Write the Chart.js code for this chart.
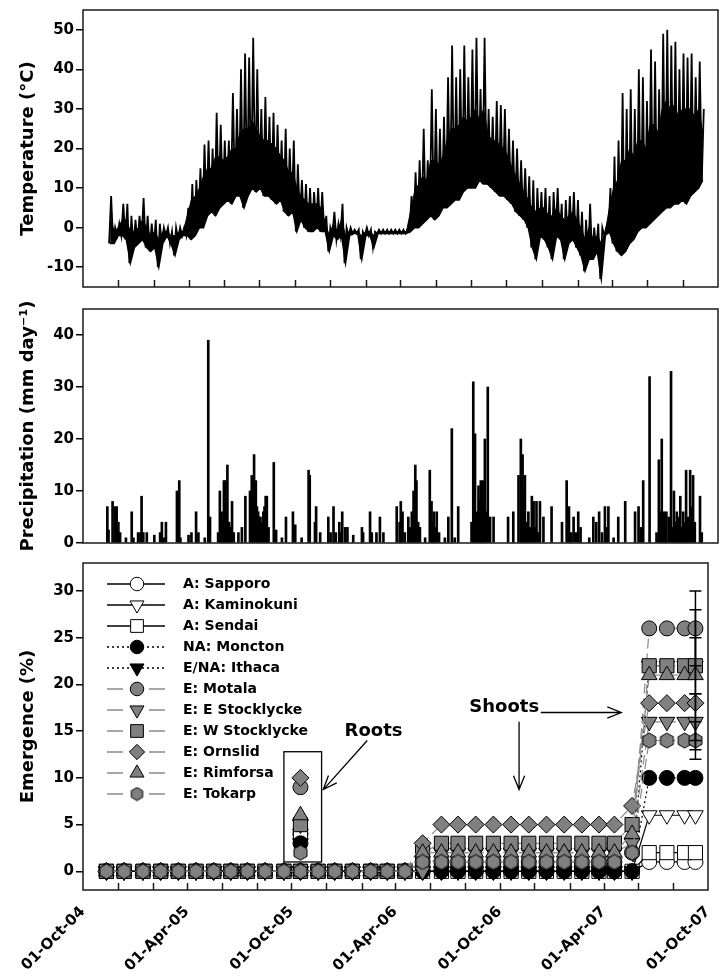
<!DOCTYPE html>
<html>
<head>
<meta charset="utf-8">
<script src="https://cdn.jsdelivr.net/npm/chart.js@4.4.1/dist/chart.umd.min.js"></script>
<style>
html, body { margin: 0; padding: 0; background: #fff; }
#wrap { position: relative; width: 719px; height: 977px; }
.panel { position: absolute; left: 0; width: 719px; }
</style>
</head>
<body>
<div id="wrap">
  <div class="panel" style="top:0"><canvas id="tempChart" width="719" height="300"></canvas></div>
  <div class="panel" style="top:300px"><canvas id="precChart" width="719" height="250"></canvas></div>
  <div class="panel" style="top:550px"><canvas id="emerChart" width="719" height="427"></canvas></div>
</div>
<script>
//DATA
// x axis = days since 01-Oct-04
const ORIGIN = '2004-10-01';
const axisTicks = ['2004-10-01','2004-12-01','2005-02-01','2005-04-01','2005-06-01','2005-08-01',
  '2005-10-01','2005-12-01','2006-02-01','2006-04-01','2006-06-01','2006-08-01','2006-10-01',
  '2006-12-01','2007-02-01','2007-04-01','2007-06-01','2007-08-01','2007-10-01'];
const tempTicks = [-10, 0, 10, 20, 30, 40, 50];
const precTicks = [0, 10, 20, 30, 40];
const emerTicks = [0, 5, 10, 15, 20, 25, 30];

// temperature, weekly from 15-Nov-04: peak, low, and top of the dense daily band
const tempStart = '2004-11-15';
const tempHigh = [8,0,1,6,6,3,2,3,7.5,3,
  1,2,1,0,0,-1,0,0,0,5,
  11,12,15,21,22,20,29,26,22,22,
  34,30,40,44,43,48,40,30,33,28,
  29,26,22,25,20,22,16,12,11,10,
  9,10,9,3,0,4,1,6,0,0,
  -0.5,-0.5,-1,0,-0.5,-1,-0.5,-0.5,-0.5,-0.5,
  -0.5,-0.5,-0.5,-0.5,8,14,17,25,17,35,
  30,25,28,38,46,38,40,46,38,45,
  48,35,48,30,28,32,31,30,25,22,
  20,17,15,13,12,10,9,10,8,9,
  10,6,7,8,9,7,4,2,6,0,
  1,0,0,10,18,22,34,30,35,30,
  40,38,32,45,42,35,49,50,46,47,
  40,44,43,44,38,42,30];
const tempLow = [-4,-4,-2,-2,-3,-9,-5,-4,-3,-5,
  -6,-5,-10,-4,-2,-4,-7,-3,-2,-2,
  -3,-2,0,0,3,4,3,5,6,7,
  6,8,8,5,8,10,9,10,8,8,
  7,6,7,4,3,4,-1,2,0,-1,
  -1,0,-1,-1,-6,-2,-3,-2,-9,-2,
  -1.5,-1.5,-8,-2,-2,-5,-1.5,-1.5,-1.5,-1.5,
  -1.5,-1.5,-1.5,-1.5,-1,0,0,1,2,3,
  2,3,5,5,6,7,7,9,10,10,
  10,12,11,11,10,9,8,8,7,6,
  4,3,2,0,-5,-8,-2,-3,-5,-8,
  -2,-3,-8,-4,-3,-5,-7,-11,-8,-8,
  -6,-13,-2,-1,-4,-6,-7,-6,-4,-3,
  -1,0,0,1,2,3,4,5,5,6,
  6,7,6,8,9,10,12];
const tempCore = [3,-1,0,2,2,-1,-1,0,2,0,
  -2,-1,-3,-1,-1,-2,-2,-1,-1,3,
  7,8,10,13,15,15,18,18,17,18,
  20,20,24,25,25,27,25,23,22,22,
  21,20,18,17,14,14,10,8,7,6,
  6,6,5,1,-2,1,-1,2,-2,-1,
  -1,-1,-2,-1,-1,-2,-1,-1,-1,-1,
  -1,-1,-1,-1,4,9,11,13,12,17,
  17,16,18,22,25,25,26,28,27,28,
  30,27,30,24,22,22,21,20,18,15,
  13,11,9,7,5,4,5,5,3,3,
  5,3,2,3,4,2,0,-3,0,-3,
  -2,-4,-1,5,10,12,17,17,20,18,
  22,22,20,26,26,24,30,32,30,31,
  28,30,30,30,28,30,24];

// precipitation: day (since 01-Oct-04) and mm
const precDay = [42,44,51,55,58,61,64,74,84,87,
  95,99,101,104,110,123,133,136,139,143,
  162,166,168,182,187,195,199,210,216,219,
  233,236,239,241,243,245,247,249,252,254,
  257,260,268,274,280,288,291,293,295,298,
  300,302,304,306,309,311,313,315,317,320,
  329,333,343,350,362,366,377,389,391,400,
  402,409,423,427,432,436,442,445,447,452,
  456,466,481,483,495,498,506,512,518,541,
  546,548,551,555,561,564,567,570,573,575,
  578,581,590,598,601,603,605,608,610,614,
  624,630,636,641,647,670,673,676,679,682,
  684,686,688,690,693,695,698,702,708,733,
  742,751,755,758,760,762,765,768,771,774,
  777,780,782,785,788,794,808,826,834,838,
  842,846,850,854,858,873,880,885,890,895,
  900,903,906,915,923,935,952,958,962,966,
  977,989,993,996,998,1000,1002,1004,1006,1010,
  1014,1017,1019,1022,1024,1027,1030,1033,1035,1038,
  1040,1043,1047,1049,1052,1055,1064,1067];
const precMm = [7,2.5,8,7,7,4,2,1,6,1,
  2,2,9,2,2,1.5,2,4,1,4,
  10,12,1,1.5,2,6,2,1,39,5,
  2,10,6,4,12,12,6,15,4,3,
  8,2,2,3,9,10,13,8,17,12,
  7,6,5,5,4,6,7,9,9,3,
  15.5,2.5,1,5,6,3.5,1,14,13,4,
  7,2,5,2,7,2,4,2,6,3,
  3,1.5,3,2,6,2,2,5,2,7,
  4,8,6,2,5,3,6,10,15,12,
  4,3,1,14,8,4,6,3,6,2,
  1,5,22,1,7,4,31,21,6,11,
  8,12,4,12,20,6,30,5,5,5,
  6,13,20,17,10,13,4,6,3,9,
  8,3,8,2,8,5,7,4,12,7,
  2,5,2,6,3,1,5,4,6,2,
  7,3,7,1,5,8,6,7,3,12,
  32,2,16,6,20,4,6,3,6,5,
  33,3,10,4,6,5,9,3,6,4,
  14,5,14,7,13,4,9,2];

// emergence (%)
const emerDates = ['2004-11-11','2004-12-12','2005-01-14','2005-02-14','2005-03-17','2005-04-17',
  '2005-05-18','2005-06-17','2005-07-16','2005-08-16','2005-09-18','2005-10-17','2005-11-17',
  '2005-12-16','2006-01-16','2006-02-17','2006-03-18','2006-04-18','2006-05-19','2006-06-21',
  '2006-07-20','2006-08-20','2006-09-20','2006-10-21','2006-11-21','2006-12-22','2007-01-22',
  '2007-02-22','2007-03-24','2007-04-20','2007-05-21','2007-06-20','2007-07-21','2007-08-21',
  '2007-09-09'];
const popNames = ['A: Sapporo','A: Kaminokuni','A: Sendai','NA: Moncton','E/NA: Ithaca',
  'E: Motala','E: E Stocklycke','E: W Stocklycke','E: Ornslid','E: Rimforsa','E: Tokarp'];
const sapporo     = [0,0,0,0,0,0,0,0,0,0,0,0,0,0,0,0,0,0, 0,0,0,0,0,0,0,0,0,0,0,0, 0, 1,1,1,1];
const kaminokuni  = [0,0,0,0,0,0,0,0,0,0,0,0,0,0,0,0,0,0, 0,0,0,0,0,0,0,0,0,0,0,0, 0, 6,6,6,6];
const sendai      = [0,0,0,0,0,0,0,0,0,0,0,0,0,0,0,0,0,0, 0,0,0,0,0,0,0,0,0,0,0,0, 0, 2,2,2,2];
const moncton     = [0,0,0,0,0,0,0,0,0,0,0,0,0,0,0,0,0,0, 0,0,0,0,0,0,0,0,0,0,0,0, 0, 10,10,10,10];
const ithaca      = [0,0,0,0,0,0,0,0,0,0,0,0,0,0,0,0,0,0, 0,0,0,0,0,0,0,0,0,0,0,0, 0, 22,22,22,22];
const motala      = [0,0,0,0,0,0,0,0,0,0,0,0,0,0,0,0,0,0, 1,1,1,1,1,1,1,1,1,1,1,1, 2, 26,26,26,26];
const eStocklycke = [0,0,0,0,0,0,0,0,0,0,0,0,0,0,0,0,0,0, 0,2,2,2,2,2,2,2,2,2,2,2, 3, 16,16,16,16];
const wStocklycke = [0,0,0,0,0,0,0,0,0,0,0,0,0,0,0,0,0,0, 2,3,3,3,3,3,3,3,3,3,3,3, 5, 22,22,22,22];
const ornslid     = [0,0,0,0,0,0,0,0,0,0,0,0,0,0,0,0,0,0, 3,5,5,5,5,5,5,5,5,5,5,5, 7, 18,18,18,18];
const rimforsa    = [0,0,0,0,0,0,0,0,0,0,0,0,0,0,0,0,0,0, 2,2,2,2,2,2,2,2,2,2,2,2, 4, 21,21,21,21];
const tokarp      = [0,0,0,0,0,0,0,0,0,0,0,0,0,0,0,0,0,0, 1,1,1,1,1,1,1,1,1,1,1,1, 2, 14,14,14,14];
const lastErr     = [0, 0, 0, 0, 0, 4, 3, 3, 0, 7, 2];
// roots, same order as popNames
const rootsDate = '2005-10-17';
const rootsPct  = [4, 4, 4, 3, 3, 9, 5, 5, 10, 6, 2];

//JS
const series = [sapporo, kaminokuni, sendai, moncton, ithaca, motala, eStocklycke, wStocklycke, ornslid, rimforsa, tokarp];
const MONTHS = ['Jan','Feb','Mar','Apr','May','Jun','Jul','Aug','Sep','Oct','Nov','Dec'];

function dayOf(s) { return (Date.parse(s) - Date.parse(ORIGIN)) / 86400000; }
function tickLabel(day) {
  const d = new Date(Date.parse(ORIGIN) + day * 86400000);
  const m = d.getUTCMonth();
  if (m !== 3 && m !== 9) return '';
  return '01-' + MONTHS[m] + '-' + String(d.getUTCFullYear()).slice(2);
}

Chart.defaults.font.family = "'DejaVu Sans', sans-serif";
Chart.defaults.font.weight = 'bold';
Chart.defaults.color = '#000';

const GREY = '#808080';
const popLook = [
  {shape: 'circle', fill: '#fff', line: 'solid'},
  {shape: 'triDown', fill: '#fff', line: 'solid'},
  {shape: 'square', fill: '#fff', line: 'solid'},
  {shape: 'circle', fill: '#000', line: 'dot'},
  {shape: 'triDown', fill: '#000', line: 'dot'},
  {shape: 'circle', fill: GREY, line: 'dash'},
  {shape: 'triDown', fill: GREY, line: 'dash'},
  {shape: 'square', fill: GREY, line: 'dash'},
  {shape: 'diamond', fill: GREY, line: 'dash'},
  {shape: 'triangle', fill: GREY, line: 'dash'},
  {shape: 'hexagon', fill: GREY, line: 'dash'}
];
const lineLook = {
  solid: {color: '#000', dash: []},
  dot: {color: '#000', dash: [2, 3]},
  dash: {color: '#8a8a8a', dash: [10, 5]}
};

function hexImage(size, fill) {
  const c = document.createElement('canvas');
  c.width = size; c.height = size;
  const g = c.getContext('2d');
  const r = size / 2 - 1;
  g.beginPath();
  for (let k = 0; k < 6; k++) {
    const a = -Math.PI / 2 + k * Math.PI / 3;
    const px = size / 2 + r * Math.cos(a), py = size / 2 + r * Math.sin(a);
    if (k === 0) g.moveTo(px, py); else g.lineTo(px, py);
  }
  g.closePath();
  g.fillStyle = fill; g.fill();
  g.lineWidth = 1; g.strokeStyle = '#000'; g.stroke();
  return c;
}

function markerOpts(look, k) {
  switch (look.shape) {
    case 'circle':   return {pointStyle: 'circle', radius: 7.5 * k, rotation: 0};
    case 'triDown':  return {pointStyle: 'triangle', radius: 9 * k, rotation: 180};
    case 'triangle': return {pointStyle: 'triangle', radius: 9 * k, rotation: 0};
    case 'square':   return {pointStyle: 'rect', radius: 10 * k, rotation: 0};
    case 'diamond':  return {pointStyle: 'rectRot', radius: 8.5 * k, rotation: 0};
    default:         return {pointStyle: hexImage(Math.round(17 * k), look.fill), radius: 8 * k, rotation: 0};
  }
}

function yAxis(min, max, vals, title) {
  return {
    min: min, max: max,
    afterBuildTicks: s => { s.ticks = vals.map(v => ({value: v})); },
    afterFit: s => { s.width = 83; s.paddingTop = 0; s.paddingBottom = 0; },
    border: {display: false},
    grid: {drawOnChartArea: false, tickLength: 7, color: '#000', lineWidth: 1.5},
    ticks: {padding: 2, color: '#000', font: {size: 15, weight: 'bold'}},
    title: {display: true, text: title, color: '#000', font: {size: 18, weight: 'bold'}, padding: {top: 18, bottom: 0}}
  };
}
function xHidden() {
  return {type: 'linear', display: false, offset: false, min: 0, max: dayOf('2007-10-01')};
}

// frame round the plot area + inward x ticks
const framePlugin = {
  id: 'frame',
  afterDatasetsDraw(chart, args, opts) {
    const {ctx, chartArea: a} = chart;
    const x = chart.scales.x;
    ctx.save();
    ctx.strokeStyle = '#1a1a1a';
    ctx.lineWidth = 1.5;
    ctx.setLineDash([]);
    ctx.strokeRect(a.left, a.top, a.right - a.left, a.bottom - a.top);
    if (opts.innerTicks) {
      axisTicks.slice(1, -1).forEach(t => {
        const px = Math.round(x.getPixelForValue(dayOf(t))) + 0.5;
        ctx.beginPath();
        ctx.moveTo(px, a.bottom);
        ctx.lineTo(px, a.bottom - 7);
        ctx.stroke();
      });
    }
    ctx.restore();
  }
};

//Temperature
const t0 = dayOf(tempStart);
const tempPoints = [];
tempHigh.forEach((hi, i) => {
  tempPoints.push({x: t0 + 7 * i, y: tempLow[i]});
  tempPoints.push({x: t0 + 7 * i + 3.5, y: hi});
});
const lowPoints = tempLow.map((v, i) => ({x: t0 + 7 * i + 1.75, y: v}));
const corePoints = tempCore.map((v, i) => ({x: t0 + 7 * i + 1.75, y: v}));

new Chart(document.getElementById('tempChart'), {
  type: 'line',
  data: {datasets: [
    {data: tempPoints, borderColor: '#000', borderWidth: 1.8, pointRadius: 0, tension: 0},
    {data: lowPoints, borderColor: '#000', borderWidth: 1.5, pointRadius: 0, tension: 0, fill: false},
    {data: corePoints, borderColor: '#000', borderWidth: 1, pointRadius: 0, tension: 0,
      fill: '-1', backgroundColor: '#000'}
  ]},
  options: {
    responsive: false, animation: false, events: [],
    layout: {padding: {top: 10, right: 1, bottom: 13, left: 0}},
    plugins: {legend: {display: false}, tooltip: {enabled: false}, frame: {innerTicks: true}},
    scales: {x: xHidden(), y: yAxis(-15, 55, tempTicks, 'Temperature (°C)')}
  },
  plugins: [framePlugin]
});

//Precipitation
new Chart(document.getElementById('precChart'), {
  type: 'bar',
  data: {datasets: [{
    data: precDay.map((d, i) => ({x: d, y: precMm[i]})),
    backgroundColor: '#000', borderWidth: 0, barThickness: 2, grouped: false
  }]},
  options: {
    responsive: false, animation: false, events: [],
    layout: {padding: {top: 9, right: 1, bottom: 7, left: 0}},
    plugins: {legend: {display: false}, tooltip: {enabled: false}, frame: {innerTicks: false}},
    scales: {x: xHidden(), y: yAxis(0, 45, precTicks, 'Precipitation (mm day⁻¹)')}
  },
  plugins: [framePlugin]
});

//Emergence
const emerSets = [];
series.forEach((vals, i) => {
  const look = popLook[i];
  const m = markerOpts(look, 1);
  const ls = lineLook[look.line];
  const pointLook = {
    pointStyle: m.pointStyle, pointRadius: m.radius, pointRotation: m.rotation,
    pointBackgroundColor: look.fill, pointBorderColor: '#000', pointBorderWidth: 1
  };
  emerSets.push(Object.assign({
    label: popNames[i],
    data: vals.map((v, k) => ({x: dayOf(emerDates[k]), y: v})),
    order: series.length - i,
    borderColor: ls.color, borderDash: ls.dash, borderWidth: 1.2, tension: 0
  }, pointLook));
  emerSets.push(Object.assign({
    label: popNames[i] + ' (roots)',
    data: [{x: dayOf(rootsDate), y: rootsPct[i]}],
    order: series.length - i,
    showLine: false
  }, pointLook));
});

const errPlugin = {
  id: 'errBars',
  afterDatasetsDraw(chart) {
    const {ctx, scales: {x, y}} = chart;
    const px = x.getPixelForValue(dayOf(emerDates[emerDates.length - 1]));
    ctx.save();
    ctx.strokeStyle = '#000';
    ctx.lineWidth = 1.5;
    series.forEach((vals, i) => {
      const e = lastErr[i];
      if (!e) return;
      const v = vals[vals.length - 1];
      const yt = y.getPixelForValue(v + e), yb = y.getPixelForValue(v - e);
      ctx.beginPath();
      ctx.moveTo(px, yt); ctx.lineTo(px, yb);
      ctx.moveTo(px - 6, yt); ctx.lineTo(px + 6, yt);
      ctx.moveTo(px - 6, yb); ctx.lineTo(px + 6, yb);
      ctx.stroke();
    });
    ctx.restore();
  }
};

function arrow(ctx, x0, y0, x1, y1) {
  const ang = Math.atan2(y1 - y0, x1 - x0);
  ctx.beginPath();
  ctx.moveTo(x0, y0); ctx.lineTo(x1, y1);
  ctx.moveTo(x1 - 15 * Math.cos(ang - 0.38), y1 - 15 * Math.sin(ang - 0.38));
  ctx.lineTo(x1, y1);
  ctx.lineTo(x1 - 15 * Math.cos(ang + 0.38), y1 - 15 * Math.sin(ang + 0.38));
  ctx.stroke();
}

const notesPlugin = {
  id: 'notes',
  afterDatasetsDraw(chart, args, o) {
    const {ctx, scales: {x, y}} = chart;
    const X = v => x.getPixelForValue(v), Y = v => y.getPixelForValue(v);
    ctx.save();
    ctx.strokeStyle = '#000';
    ctx.lineWidth = 1.3;
    ctx.setLineDash([]);
    const b = o.rootsBox;
    ctx.strokeRect(X(b[0]), Y(b[3]), X(b[1]) - X(b[0]), Y(b[2]) - Y(b[3]));
    ctx.fillStyle = '#000';
    ctx.font = "bold 18px 'DejaVu Sans'";
    ctx.textAlign = 'center';
    ctx.textBaseline = 'middle';
    ctx.fillText('Roots', X(o.rootsText[0]), Y(o.rootsText[1]));
    ctx.fillText('Shoots', X(o.shootsText[0]), Y(o.shootsText[1]));
    [o.rootsArrow, o.shootsRight, o.shootsDown].forEach(a => arrow(ctx, X(a[0]), Y(a[1]), X(a[2]), Y(a[3])));
    ctx.restore();
  }
};

const keyPlugin = {
  id: 'key',
  afterDatasetsDraw(chart) {
    const {ctx, chartArea: a} = chart;
    ctx.save();
    popNames.forEach((name, i) => {
      const look = popLook[i];
      const ls = lineLook[look.line];
      const yy = a.top + 21 + i * 21;
      const x0 = a.left + 24, x1 = a.left + 82, xm = a.left + 54;
      ctx.strokeStyle = ls.color;
      ctx.lineWidth = 1.3;
      ctx.beginPath();
      if (look.line === 'dash') {
        ctx.setLineDash([]);
        ctx.moveTo(x0, yy); ctx.lineTo(x0 + 16, yy);
        ctx.moveTo(x1 - 16, yy); ctx.lineTo(x1, yy);
      } else {
        ctx.setLineDash(ls.dash);
        ctx.moveTo(x0, yy); ctx.lineTo(x1, yy);
      }
      ctx.stroke();
      ctx.setLineDash([]);
      const m = markerOpts(look, 0.9);
      ctx.fillStyle = look.fill;
      ctx.strokeStyle = '#000';
      ctx.lineWidth = 1;
      Chart.helpers.drawPoint(ctx, {pointStyle: m.pointStyle, radius: m.radius, rotation: m.rotation, borderWidth: 1}, xm, yy);
      ctx.fillStyle = '#000';
      ctx.font = "bold 14px 'DejaVu Sans'";
      ctx.textAlign = 'left';
      ctx.textBaseline = 'middle';
      ctx.fillText(name, a.left + 100, yy);
    });
    ctx.restore();
  }
};

new Chart(document.getElementById('emerChart'), {
  type: 'line',
  data: {datasets: emerSets},
  options: {
    responsive: false, animation: false, events: [],
    layout: {padding: {top: 13, right: 1, bottom: 0, left: 0}},
    plugins: {
      legend: {display: false}, tooltip: {enabled: false},
      frame: {innerTicks: true},
      notes: {
        rootsBox: [352, 418, 1.0, 12.8],
        rootsText: [509, 15.0],
        rootsArrow: [498, 14.0, 421, 8.75],
        shootsText: [738, 17.6],
        shootsRight: [802, 17.0, 943, 17.0],
        shootsDown: [764, 16.0, 764, 8.75]
      }
    },
    scales: {
      x: {
        type: 'linear', offset: false, min: 0, max: dayOf('2007-10-01'),
        afterBuildTicks: s => { s.ticks = axisTicks.map(t => ({value: dayOf(t)})); },
        afterFit: s => { s.height = 87; s.paddingLeft = 0; s.paddingRight = 0; },
        border: {display: false},
        grid: {drawOnChartArea: false, drawTicks: false},
        ticks: {autoSkip: false, minRotation: 45, maxRotation: 45, padding: 13, color: '#000',
          font: {size: 15, weight: 'bold'}, callback: v => tickLabel(v)}
      },
      y: yAxis(-2, 33, emerTicks, 'Emergence (%)')
    }
  },
  plugins: [framePlugin, errPlugin, notesPlugin, keyPlugin]
});
</script>
</body>
</html>
